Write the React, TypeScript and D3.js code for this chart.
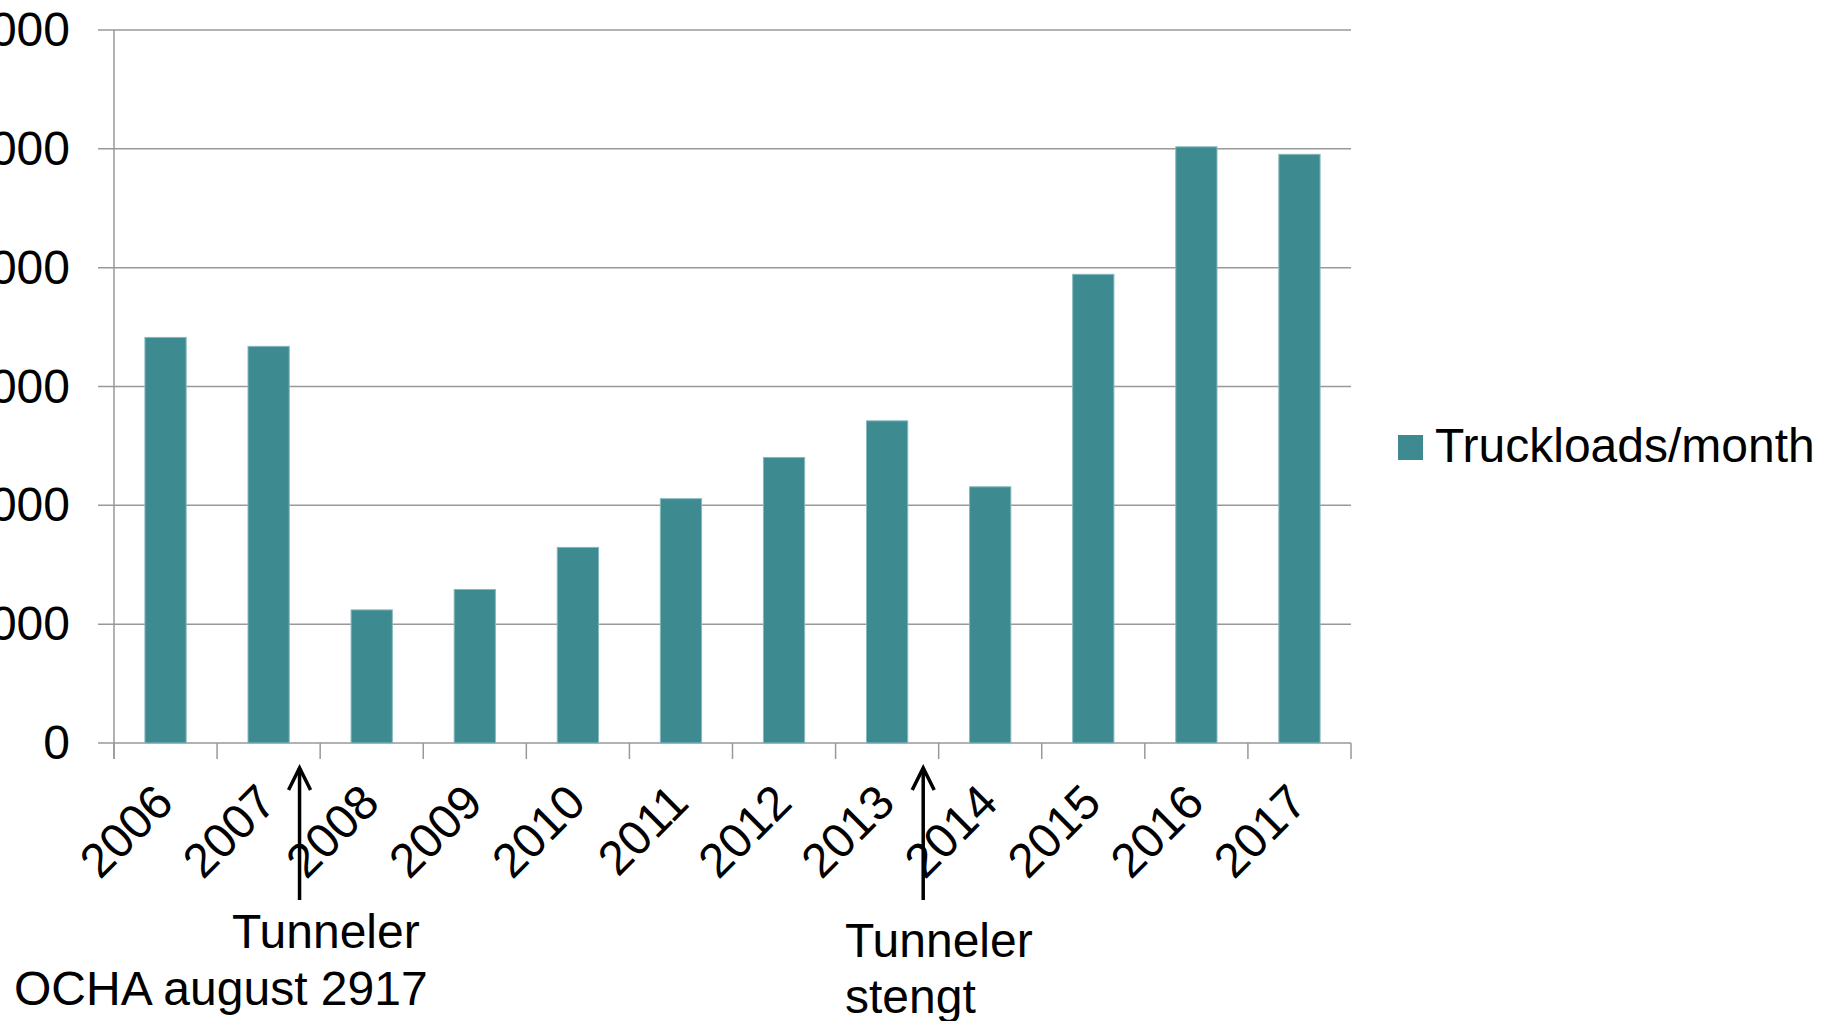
import React from "react";
import * as d3 from "d3";

const years = ["2006", "2007", "2008", "2009", "2010", "2011", "2012", "2013", "2014", "2015", "2016", "2017"];
const truckloads = [6826, 6676, 2240, 2584, 3292, 4112, 4806, 5422, 4312, 7888, 10034, 9908];
const yTicks = [0, 2000, 4000, 6000, 8000, 10000, 12000];
const seriesName = "Truckloads/month";
const arrowYears = ["2007", "2013"];
const arrowFractions = [0.8, 0.85];

const W = 1821;
const H = 1021;
const left = 114;
const right = 1351;
const top = 30;
const bottom = 743;
const FS = 48;
const FONT = "'Liberation Sans', Arial, Helvetica, sans-serif";
const BAR = "#3D8A91";
const GRID = "#999999";

export default function App() {
  const xCat = d3.scaleBand<string>().domain(years).range([left, right]).padding(0);
  const xBar = d3.scaleBand<string>().domain(years).range([left, right]).paddingInner(0.6).paddingOuter(0.3);
  const y = d3.scaleLinear().domain([0, 12000]).range([bottom, top]);
  const step = xCat.step();
  const boundaries = years.map((c) => xCat(c) as number).concat([right]);

  return (
    <svg width={W} height={H} style={{ position: "absolute", left: 0, top: 0, background: "#fff" }} fontFamily={FONT}>
      <rect x={0} y={0} width={W} height={H} fill="#fff" />
      {/* gridlines */}
      {yTicks.map((t) => (
        <line key={"g" + t} x1={left - 16} x2={right} y1={y(t)} y2={y(t)} stroke={GRID} strokeWidth={1.5} />
      ))}
      {/* y axis */}
      <line x1={left} x2={left} y1={top} y2={bottom + 16} stroke={GRID} strokeWidth={1.5} />
      {/* x ticks */}
      {boundaries.map((b, i) => (
        <line key={"t" + i} x1={b} x2={b} y1={bottom} y2={bottom + 16} stroke={GRID} strokeWidth={1.5} />
      ))}
      {/* y labels */}
      {yTicks.map((t) => (
        <text key={"yl" + t} x={70} y={y(t) + 16} textAnchor="end" fontSize={FS} fill="#000">
          {t}
        </text>
      ))}
      {/* bars */}
      {years.map((yr, i) => (
        <rect
          key={"b" + yr}
          x={xBar(yr)}
          y={y(truckloads[i])}
          width={xBar.bandwidth()}
          height={bottom - y(truckloads[i])}
          fill={BAR}
          stroke="#86b9bd"
          strokeWidth={1}
        />
      ))}
      {/* x labels */}
      {years.map((yr) => {
        const cx = (xCat(yr) as number) + step / 2 + 10;
        const cy = bottom + 62;
        return (
          <text key={"xl" + yr} x={cx} y={cy} textAnchor="end" fontSize={FS} fill="#000" transform={`rotate(-45 ${cx} ${cy})`}>
            {yr}
          </text>
        );
      })}
      {/* arrows */}
      {arrowYears.map((yr, i) => {
        const ax = (xCat(yr) as number) + arrowFractions[i] * step;
        return (
          <g key={"a" + yr} stroke="#000" strokeWidth={3.5} fill="none">
            <line x1={ax} x2={ax} y1={900} y2={768} />
            <polyline points={`${ax - 11},${790} ${ax},${768} ${ax + 11},${790}`} strokeLinejoin="miter" />
          </g>
        );
      })}
      {/* annotation texts */}
      <text x={232} y={948} fontSize={FS} fill="#000">Tunneler</text>
      <text x={14} y={1005} fontSize={FS} fill="#000">OCHA august 2917</text>
      <text x={845} y={957} fontSize={FS} fill="#000">Tunneler</text>
      <text x={845} y={1013} fontSize={FS} fill="#000">stengt</text>
      {/* legend */}
      <rect x={1398} y={435} width={25} height={25} fill={BAR} />
      <text x={1435} y={462} fontSize={FS} fill="#000">{seriesName}</text>
    </svg>
  );
}
